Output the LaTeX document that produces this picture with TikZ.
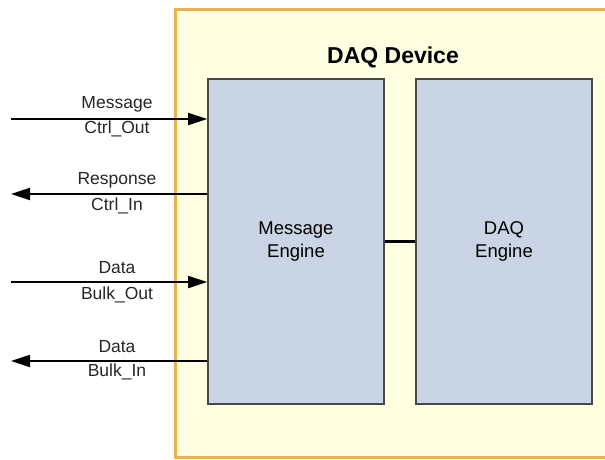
\documentclass[tikz,border=0pt]{standalone}
\usepackage{fontspec}
\setmainfont{Liberation Sans}
\usetikzlibrary{arrows.meta}
\begin{document}
\begin{tikzpicture}[x=1pt,y=-1pt,
  engine/.style={draw=black!72, line width=1.6pt, fill=engfill, minimum width=176pt, minimum height=325pt, inner sep=0pt, font=\fontsize{18.5}{23}\selectfont, align=center},
  lbl/.style={font=\fontsize{17.5}{20}\selectfont, inner sep=0pt, text=black!85},
  sig/.style={line width=1.8pt, -{Triangle[length=19pt,width=12pt]}},
]
\definecolor{engfill}{HTML}{C9D5E5}
\definecolor{devfill}{HTML}{FFFEE0}
\definecolor{devline}{HTML}{EBB04A}
\useasboundingbox (0,0) rectangle (605,459);
% device
\fill[devfill] (175,9) rectangle (605,457);
\draw[devline, line width=3pt] (605,9) -- (175,9) -- (175,457) -- (605,457);
\node[font=\fontsize{23}{26}\selectfont\bfseries] (title) at (393,57) {DAQ Device};
% engines
\node[engine] (me) at (296,241.5) {Message\\Engine};
\node[engine] (daq) at (504,241.5) {DAQ\\Engine};
\draw[line width=2.2pt] (me.east) -- (daq.west);
% ports
\coordinate (p1) at (11,119);
\coordinate (p2) at (11,194);
\coordinate (p3) at (11,282);
\coordinate (p4) at (11,361);
\draw[sig] (p1) -- (me.west |- p1);
\draw[sig] (me.west |- p2) -- (p2);
\draw[sig] (p3) -- (me.west |- p3);
\draw[sig] (me.west |- p4) -- (p4);
\node[lbl] (l1a) at (117,104) {Message};
\node[lbl] (l1b) at (117,129) {Ctrl\_Out};
\node[lbl] (l2a) at (117,180) {Response};
\node[lbl] (l2b) at (117,206) {Ctrl\_In};
\node[lbl] (l3a) at (117,268) {Data};
\node[lbl] (l3b) at (117,295) {Bulk\_Out};
\node[lbl] (l4a) at (117,347) {Data};
\node[lbl] (l4b) at (117,372) {Bulk\_In};
\end{tikzpicture}
\end{document}
